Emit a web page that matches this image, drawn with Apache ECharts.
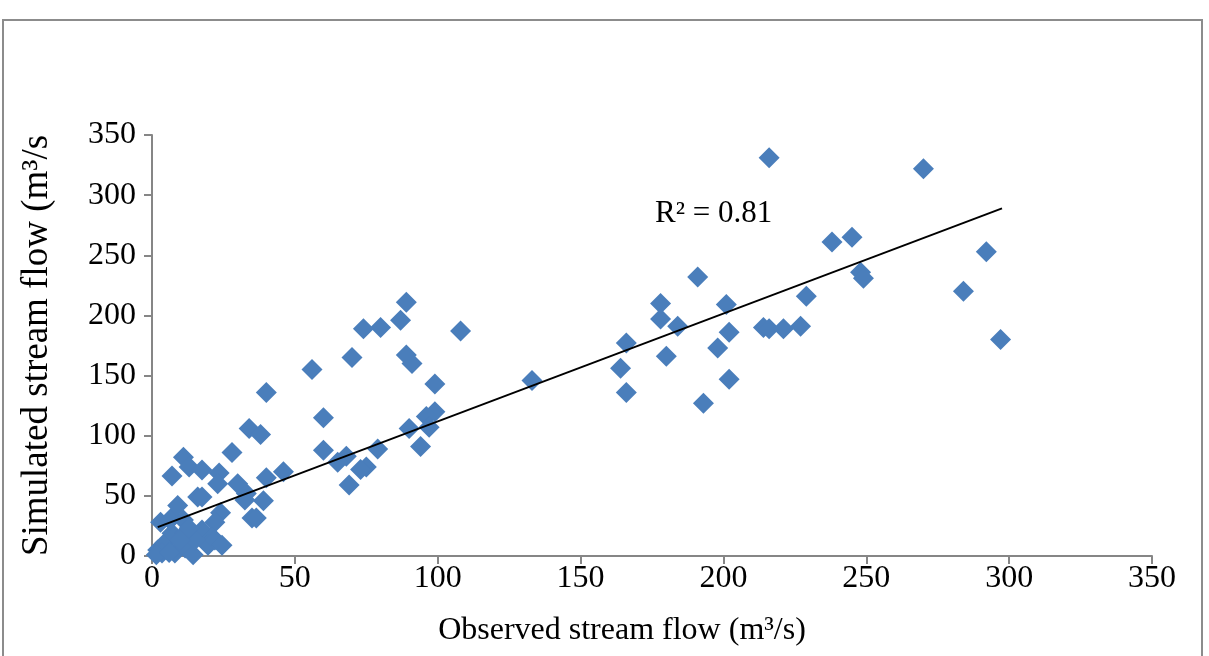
<!DOCTYPE html>
<html>
<head>
<meta charset="utf-8">
<script src="https://cdn.jsdelivr.net/npm/echarts@6/dist/echarts.min.js"></script>
<style>
	html, body { margin: 0; padding: 0; background: #fff; }
	#main { width: 1209px; height: 656px; }
</style>
</head>
<body>
<div id="main"></div>
<script>
// observed / simulated stream flow pairs (m3/s)
var observed = [
	216, 270, 238, 245, 248, 249, 292, 284, 297, 191, 229, 201, 178, 178, 184, 202, 214, 216, 221, 227,
	166, 180, 198, 164, 166, 202, 193, 133,
	108, 89, 87, 80, 74, 70, 56, 89, 91, 99, 60, 40, 99, 96, 97, 90, 94, 79, 60, 68, 65, 75, 73, 69, 46,
	34, 38, 28, 11, 13, 17.5, 7, 23.5, 23, 30, 40, 16, 17.5, 9, 33, 32.5, 39, 24, 22, 35, 36.5,
	3, 7, 17.5, 21, 2, 4.6, 8, 11.6, 14.4, 19.6, 22, 7, 11.6, 15, 6.3, 11, 3.5, 9.8, 24.5, 13, 1.5, 6
];
var simulated = [
	331, 322, 261, 265, 236, 231, 253, 220, 180, 232, 216, 209, 210, 197, 191, 186, 190, 189, 189, 191,
	177, 166, 173, 156, 136, 147, 127, 146,
	187, 211, 196, 190, 189, 165, 155, 167, 160, 143, 115, 136, 120, 116, 107, 106, 91, 89, 88, 83, 78, 74, 72, 59, 70,
	106, 101, 86, 82, 74, 71.5, 66.5, 69, 60, 60, 65, 49, 49, 42, 52, 46.5, 46, 36, 28, 31.5, 31.5,
	28, 32, 21.6, 16, 5, 11, 2.5, 6.7, 1, 9, 13.3, 19, 19, 13.3, 30, 30, 2.5, 13.3, 9, 23, 1, 3
];
// linear trendline ends (Excel fit, R² = 0.81)
var trendX = [2, 297.5];
var trendY = [24, 289];
var xTicks = [0, 50, 100, 150, 200, 250, 300, 350];
var yTicks = [0, 50, 100, 150, 200, 250, 300, 350];

var points = [];
for (var i = 0; i < observed.length; i++) {
	points.push([observed[i], simulated[i]]);
}
var trend = [];
for (var j = 0; j < trendX.length; j++) {
	trend.push([trendX[j], trendY[j]]);
}

var font = '"Liberation Serif", "Times New Roman", serif';
var myChart = echarts.init(document.getElementById('main'));
var option = {
	backgroundColor : '#fff',
	animation : false,
	textStyle : {
		fontFamily : font,
		color : '#000'
	},
	grid : {
		left : 152,
		right : 57,
		top : 135,
		bottom : 100
	},
	graphic : [ {
		type : 'rect',
		shape : { x : 3, y : 20, width : 1199, height : 700 },
		style : { fill : 'none', stroke : '#8c8c8c', lineWidth : 2 },
		silent : true
	}, {
		type : 'text',
		left : 655,
		top : 198,
		style : {
			text : 'R² = 0.81',
			font : '31px ' + font,
			fill : '#000'
		}
	} ],
	xAxis : {
		type : 'value',
		min : xTicks[0],
		max : xTicks[xTicks.length - 1],
		interval : 50,
		name : 'Observed stream flow (m³/s)',
		nameLocation : 'middle',
		nameGap : 59,
		nameTextStyle : {
			fontSize : 32,
			fontFamily : font,
			color : '#000',
			padding : [ 0, 60, 0, 0 ]
		},
		axisLine : { lineStyle : { color : '#868686', width : 2 } },
		axisTick : { show : true, length : 8, lineStyle : { color : '#868686', width : 2 } },
		axisLabel : { fontSize : 32, fontFamily : font, color : '#000', margin : 7 },
		splitLine : { show : false }
	},
	yAxis : {
		type : 'value',
		min : yTicks[0],
		max : yTicks[yTicks.length - 1],
		interval : 50,
		name : 'Simulated stream flow (m³/s',
		nameLocation : 'middle',
		nameGap : 96,
		nameTextStyle : {
			fontSize : 37,
			fontFamily : font,
			color : '#000'
		},
		axisLine : { show : true, lineStyle : { color : '#868686', width : 2 } },
		axisTick : { show : true, length : 8, lineStyle : { color : '#868686', width : 2 } },
		axisLabel : { fontSize : 32, fontFamily : font, color : '#000', margin : 16 },
		splitLine : { show : false }
	},
	series : [ {
		type : 'scatter',
		data : points,
		symbol : 'diamond',
		symbolSize : [ 21, 21 ],
		clip : false,
		itemStyle : { color : '#4a7ebb', opacity : 1 }
	}, {
		type : 'line',
		data : trend,
		showSymbol : false,
		symbol : 'none',
		lineStyle : { color : '#000', width : 2 },
		z : 3
	} ]
};
myChart.setOption(option);
</script>
</body>
</html>
